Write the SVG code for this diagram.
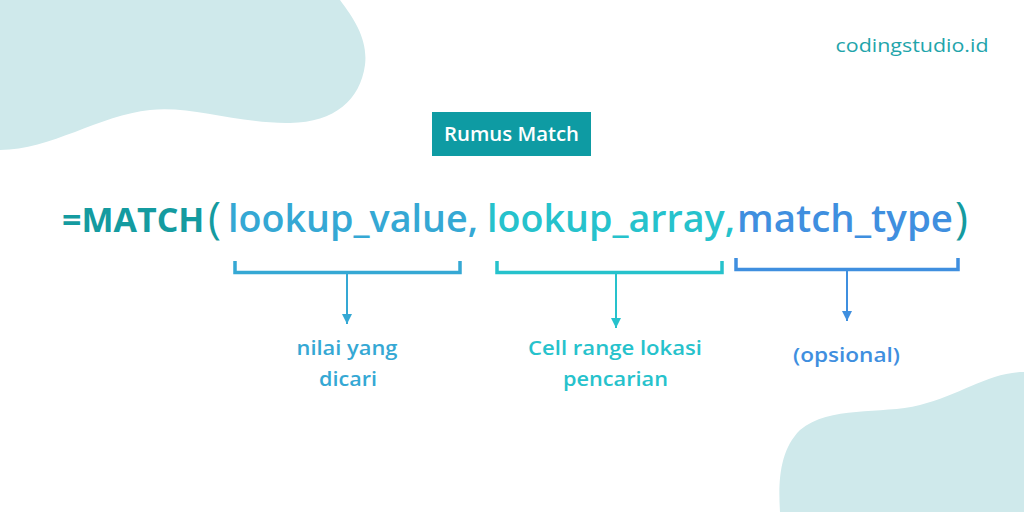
<svg xmlns="http://www.w3.org/2000/svg" width="1024" height="512" viewBox="0 0 1024 512">
<defs>
<style>
.blob{fill:#cfe9eb}
.t{font-family:"Open Sans","Liberation Sans",sans-serif}
.f{font-size:38px;font-weight:600}
.p{font-size:44px;font-weight:500}
.lbl{font-size:20px;font-weight:600;text-anchor:middle}
.br{fill:none;stroke-width:3.5;stroke-linecap:butt}
</style>
<marker id="a1" viewBox="0 0 10 10" refX="10" refY="5" markerWidth="10" markerHeight="10" markerUnits="userSpaceOnUse" orient="auto"><path d="M0,0 L10,5 L0,10 Z" fill="#35a8d4"/></marker>
<marker id="a2" viewBox="0 0 10 10" refX="10" refY="5" markerWidth="10" markerHeight="10" markerUnits="userSpaceOnUse" orient="auto"><path d="M0,0 L10,5 L0,10 Z" fill="#26c2cc"/></marker>
<marker id="a3" viewBox="0 0 10 10" refX="10" refY="5" markerWidth="10" markerHeight="10" markerUnits="userSpaceOnUse" orient="auto"><path d="M0,0 L10,5 L0,10 Z" fill="#3f8fdf"/></marker>
</defs>
<rect width="1024" height="512" fill="#ffffff"/>
<path class="blob" d="M0,0 L340,0 C355,20 368,40 365,65 C360,100 335,122 290,123 C240,124 190,105 150,110 C100,115 50,150 0,150 Z"/>
<path class="blob" d="M1024,372 C990,372 960,395 920,405 C880,415 830,405 800,430 C780,450 778,480 780,512 L1024,512 Z"/>
<g id="brand"><text class="t" x="912" y="52" font-size="18" fill="#1fa5ab" text-anchor="middle" textLength="153" lengthAdjust="spacingAndGlyphs">codingstudio.id</text></g>
<g id="title">
<rect x="432" y="112" width="159" height="44" fill="#0e9ba3"/>
<text class="t" x="511.5" y="141" font-size="19" font-weight="600" fill="#ffffff" text-anchor="middle" textLength="135" lengthAdjust="spacingAndGlyphs">Rumus Match</text>
</g>
<g id="formula">
<text class="t" x="62" y="232" fill="#149ba0" font-size="34" font-weight="700">=MATCH</text>
<text class="t p" x="208" y="233" fill="#149ba0">(</text>
<text class="t f" x="228" y="232" fill="#35a8d4" textLength="250" lengthAdjust="spacingAndGlyphs">lookup_value,</text>
<text class="t f" x="487" y="232" fill="#26c2cc" textLength="248" lengthAdjust="spacingAndGlyphs">lookup_array,</text>
<text class="t f" x="737" y="232" fill="#3f8fdf" textLength="216" lengthAdjust="spacingAndGlyphs">match_type</text>
<text class="t p" x="955" y="233" fill="#149ba0">)</text>
</g>
<g id="connectors">
<path class="br" stroke="#35a8d4" d="M235,261 V272.5 H460 V261"/>
<line x1="347" y1="272" x2="347" y2="324" stroke="#35a8d4" stroke-width="2" marker-end="url(#a1)"/>
<path class="br" stroke="#26c2cc" d="M497,261 V272.5 H722 V261"/>
<line x1="616" y1="272" x2="616" y2="328" stroke="#26c2cc" stroke-width="2" marker-end="url(#a2)"/>
<path class="br" stroke="#3f8fdf" d="M736,258 V269.5 H958 V258"/>
<line x1="847" y1="269" x2="847" y2="321" stroke="#3f8fdf" stroke-width="2" marker-end="url(#a3)"/>
</g>
<g id="label1">
<text class="t lbl" x="347" y="355" fill="#35a8d4" textLength="101" lengthAdjust="spacingAndGlyphs">nilai yang</text>
<text class="t lbl" x="348" y="386" fill="#35a8d4" textLength="58" lengthAdjust="spacingAndGlyphs">dicari</text>
</g>
<g id="label2">
<text class="t lbl" x="615" y="355" fill="#26c2cc" textLength="174" lengthAdjust="spacingAndGlyphs">Cell range lokasi</text>
<text class="t lbl" x="615.5" y="386" fill="#26c2cc" textLength="105" lengthAdjust="spacingAndGlyphs">pencarian</text>
</g>
<g id="label3">
<text class="t lbl" x="846.5" y="362" fill="#3f8fdf" textLength="107" lengthAdjust="spacingAndGlyphs">(opsional)</text>
</g>
</svg>
